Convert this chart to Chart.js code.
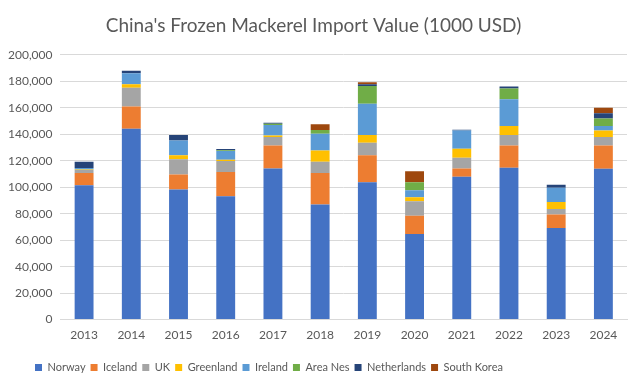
<!DOCTYPE html>
<html>
<head>
<meta charset="utf-8">
<script src="https://cdn.jsdelivr.net/npm/chart.js@4.4.1/dist/chart.umd.min.js"></script>
<style>
  body { margin: 0; background: #ffffff; }
</style>
</head>
<body>
<canvas id="mackerelChart" width="640" height="386"></canvas>
<script>
// import value, 1000 USD
var years = ['2013', '2014', '2015', '2016', '2017', '2018', '2019', '2020', '2021', '2022', '2023', '2024'];
var norway      = [101500, 144200, 98200, 93200, 114100, 86900, 103800, 64600, 107800, 114600, 69200, 113900];
var iceland     = [9300, 16700, 11400, 18200, 17400, 23900, 20400, 13900, 6300, 16900, 10100, 17600];
var uk          = [2100, 14300, 11600, 8300, 6400, 8400, 9400, 10900, 8100, 7900, 4300, 6400];
var greenland   = [400, 2600, 3000, 1000, 1200, 8600, 5800, 3000, 6900, 6800, 5300, 5000];
var ireland     = [1200, 8300, 11100, 6600, 7900, 12600, 23700, 5300, 13800, 20200, 10600, 3300];
var areaNes     = [0, 0, 0, 600, 1000, 2800, 13400, 6100, 0, 8100, 0, 5600];
var netherlands = [4800, 1800, 4100, 900, 700, 0, 1200, 0, 500, 1500, 2300, 4000];
var southKorea  = [0, 0, 0, 0, 0, 4300, 1600, 8300, 0, 0, 0, 4300];

var textColor = '#595959';
Chart.defaults.font.family = 'Lato, "Liberation Sans", sans-serif';
Chart.defaults.color = textColor;

// excel puts the legend left of centre and further below the axis
var shiftLegend = {
    id: 'shiftLegend',
    afterLayout: function (chart) {
        var lg = chart.legend;
        var w = lg.right - lg.left;
        lg.left = 30;
        lg.right = 30 + w;
        lg.top += 15;
        lg.bottom += 15;
    }
};

function series(label, data, color) {
    return {
        label: label,
        data: data,
        backgroundColor: color,
        borderWidth: 0,
        categoryPercentage: 0.8,
        barPercentage: 0.5
    };
}

var ctx = document.getElementById('mackerelChart').getContext('2d');
new Chart(ctx, {
    type: 'bar',
    data: {
        labels: years,
        datasets: [
            series('Norway', norway, '#4472C4'),
            series('Iceland', iceland, '#ED7D31'),
            series('UK', uk, '#A5A5A5'),
            series('Greenland', greenland, '#FFC000'),
            series('Ireland', ireland, '#5B9BD5'),
            series('Area Nes', areaNes, '#70AD47'),
            series('Netherlands', netherlands, '#264478'),
            series('South Korea', southKorea, '#9E480E')
        ]
    },
    options: {
        responsive: false,
        animation: false,
        layout: { padding: { left: 0, right: 13, top: 0, bottom: 18 } },
        plugins: {
            title: {
                display: true,
                text: "China's Frozen Mackerel Import Value (1000 USD)",
                color: textColor,
                font: { size: 19, weight: 'normal' },
                padding: { top: 14, bottom: 18 }
            },
            legend: {
                position: 'bottom',
                align: 'start',
                labels: {
                    boxWidth: 7,
                    boxHeight: 7,
                    padding: 5,
                    color: textColor,
                    font: { size: 11 }
                }
            },
            tooltip: { enabled: false }
        },
        scales: {
            x: {
                stacked: true,
                grid: { display: false },
                border: { color: '#d9d9d9' },
                ticks: { color: textColor, font: { size: 12 }, padding: 0 }
            },
            y: {
                stacked: true,
                min: 0,
                max: 200000,
                ticks: { stepSize: 20000, color: textColor, font: { size: 12 }, padding: 8 },
                grid: { color: '#d9d9d9', drawTicks: false },
                border: { display: false }
            }
        }
    },
    plugins: [shiftLegend]
});
</script>
</body>
</html>
